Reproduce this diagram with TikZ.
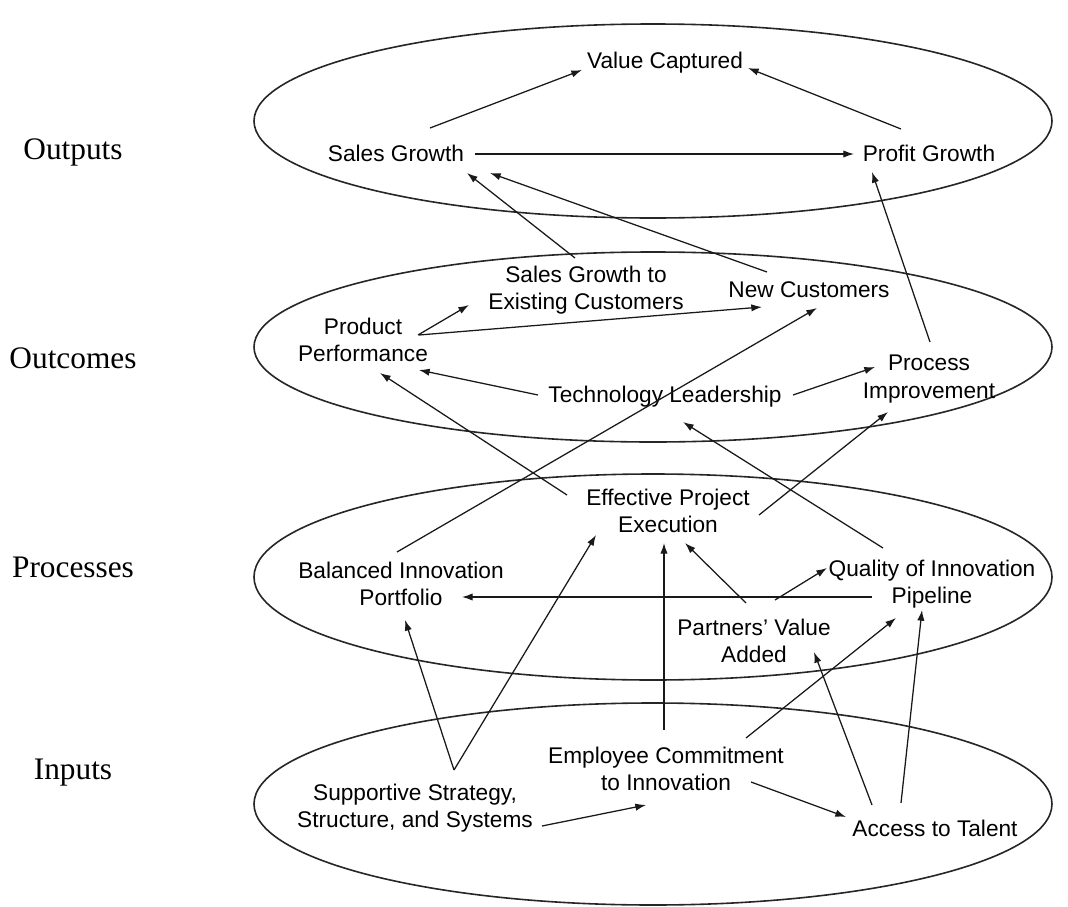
\documentclass[tikz,border=0pt]{standalone}
\usepackage{fontspec}
\setmainfont{Liberation Sans}
\newfontfamily\levelfont{Liberation Serif}
\usetikzlibrary{arrows.meta}

\tikzset{
  item/.style={align=center, inner sep=0pt, font=\fontsize{17}{20.5}\selectfont},
  level/.style={inner sep=0pt, font=\levelfont\fontsize{23.5}{28}\selectfont},
  ring/.style={draw=black!85, line width=1.2pt},
  arr/.style={draw=black!90, line width=0.95pt, -{Latex[length=8pt,width=5.5pt]}}
}

\begin{document}
\begin{tikzpicture}[x=0.75pt, y=-0.75pt]
\useasboundingbox (0,0) rectangle (1068,907);

% the four layers
\draw[ring] (653,121) ellipse [x radius=399, y radius=97];
\draw[ring] (653,347) ellipse [x radius=399, y radius=95];
\draw[ring] (653,577) ellipse [x radius=399, y radius=103];
\draw[ring] (653,804) ellipse [x radius=399, y radius=101];

% layer names
\node[level] (Lout) at (73,152) {Outputs};
\node[level] (Loc)  at (73,358) {Outcomes};
\node[level] (Lpr)  at (73,567) {Processes};
\node[level] (Lin)  at (73,773) {Inputs};

% outputs
\node[item] (VC) at (665,63)  {Value Captured};
\node[item] (SG) at (396,153) {Sales Growth};
\node[item] (PG) at (929,153) {Profit Growth};

% outcomes
\node[item] (SGE) at (586,290) {Sales Growth to\\Existing Customers};
\node[item] (NC)  at (809,290) {New Customers};
\node[item] (PP)  at (363,340) {Product\\Performance};
\node[item] (TL)  at (665,397) {Technology Leadership};
\node[item] (PI)  at (929,379) {Process\\Improvement};

% processes
\node[item] (EPE) at (668,511) {Effective Project\\Execution};
\node[item] (BIP) at (401,584) {Balanced Innovation\\Portfolio};
\node[item] (QIP) at (932,584) {Quality of Innovation\\Pipeline};
\node[item] (PVA) at (754,641) {Partners' Value\\Added};

% inputs
\node[item] (ECI) at (666,769) {Employee Commitment\\to Innovation};
\node[item] (SSS) at (415,808) {Supportive Strategy,\\Structure, and Systems};
\node[item] (AT)  at (935,828) {Access to Talent};

% shared start of the two links leaving the strategy node
\coordinate (SSSup) at ([shift={(39,-38)}]SSS.center);

% links inside the outputs layer
\draw[arr] ([shift={(34,-25)}]SG.center) -- ([shift={(-83,7)}]VC.center);
\draw[arr] ([shift={(-28,-24)}]PG.center) -- ([shift={(83,5)}]VC.center);
\draw[arr] ([shift={(79,1)}]SG.center) -- ([shift={(-75,1)}]PG.center);

% outcomes feeding outputs
\draw[arr] ([shift={(-11,-32)}]SGE.center) -- ([shift={(71,20)}]SG.center);
\draw[arr] ([shift={(-42,-18)}]NC.center) -- ([shift={(94,20)}]SG.center);
\draw[arr] ([shift={(1,-37)}]PI.center) -- ([shift={(-57,19)}]PG.center);

% links inside the outcomes layer
\draw[arr] ([shift={(55,-5)}]PP.center) -- ([shift={(-117,15)}]SGE.center);
\draw[arr] ([shift={(56,-5)}]PP.center) -- ([shift={(-47,17)}]NC.center);
\draw[arr] ([shift={(-127,-2)}]TL.center) -- ([shift={(56,30)}]PP.center);
\draw[arr] ([shift={(128,-2)}]TL.center) -- ([shift={(-54,-12)}]PI.center);

% processes feeding outcomes
\draw[arr] ([shift={(-101,-16)}]EPE.center) -- ([shift={(17,33)}]PP.center);
\draw[arr] ([shift={(-4,-32)}]BIP.center) -- ([shift={(8,18)}]NC.center);
\draw[arr] ([shift={(-49,-36)}]QIP.center) -- ([shift={(18,25)}]TL.center);
\draw[arr] ([shift={(91,4)}]EPE.center) -- ([shift={(-41,33)}]PI.center);

% links inside the processes layer
\draw[arr] ([shift={(-60,13)}]QIP.center) -- ([shift={(61,13)}]BIP.center);
\draw[arr] ([shift={(-8,-38)}]PVA.center) -- ([shift={(17,32)}]EPE.center);
\draw[arr] ([shift={(21,-41)}]PVA.center) -- ([shift={(-105,-16)}]QIP.center);

% inputs feeding processes
\draw[arr] ([shift={(-2,-39)}]ECI.center) -- ([shift={(-4,32)}]EPE.center);
\draw[arr] (SSSup) -- ([shift={(-72,24)}]EPE.center);
\draw[arr] (SSSup) -- ([shift={(4,36)}]BIP.center);
\draw[arr] ([shift={(80,-31)}]ECI.center) -- ([shift={(-36,34)}]QIP.center);
\draw[arr] ([shift={(-63,-23)}]AT.center) -- ([shift={(60,11)}]PVA.center);
\draw[arr] ([shift={(-34,-25)}]AT.center) -- ([shift={(-10,26)}]QIP.center);

% links inside the inputs layer
\draw[arr] ([shift={(127,18)}]SSS.center) -- ([shift={(-20,36)}]ECI.center);
\draw[arr] ([shift={(85,13)}]ECI.center) -- ([shift={(-89,-11)}]AT.center);
\end{tikzpicture}
\end{document}
